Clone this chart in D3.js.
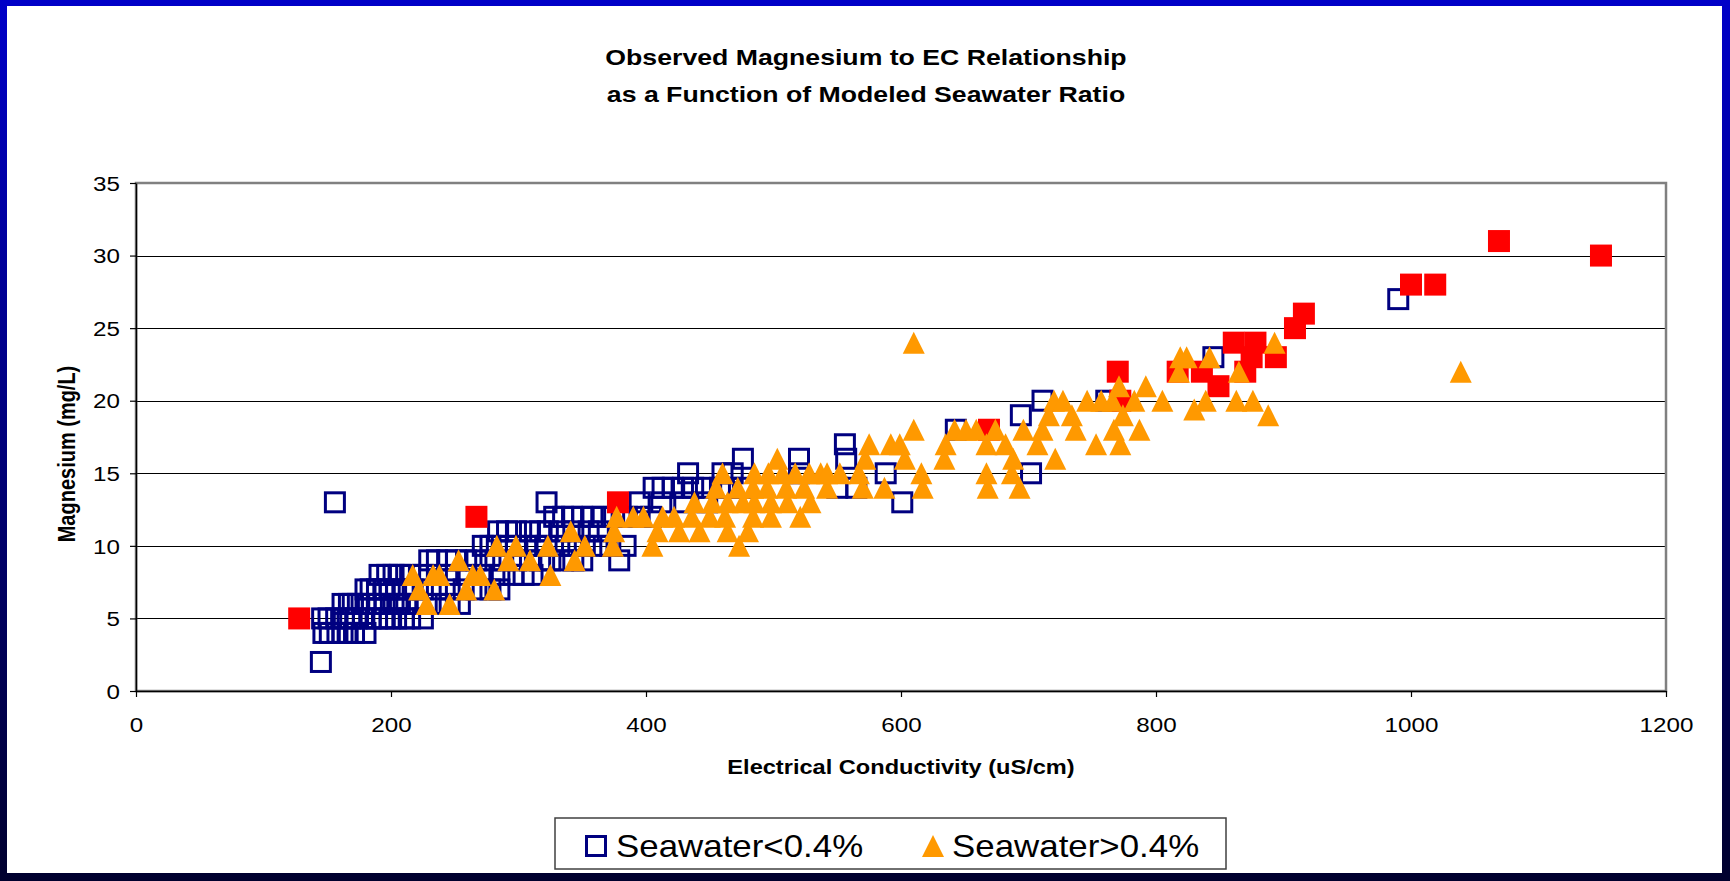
<!DOCTYPE html>
<html>
<head>
<meta charset="utf-8">
<script src="https://cdn.jsdelivr.net/npm/d3@7"></script>
<style>
  html, body { margin: 0; padding: 0; overflow: hidden; background: #000060; }
  svg { display: block; }
  text { font-family: "Liberation Sans", Arial, sans-serif; fill: #000; }
</style>
</head>
<body>
<svg id="chart" width="1730" height="881"></svg>
<script>
// ---- data -------------------------------------------------------------
const ecTicks = [0, 200, 400, 600, 800, 1000, 1200];
const mgTicks = [0, 5, 10, 15, 20, 25, 30, 35];
const titleLines = ["Observed Magnesium to EC Relationship", "as a Function of Modeled Seawater Ratio"];
const xTitle = "Electrical Conductivity (uS/cm)";
const yTitle = "Magnesium (mg/L)";
const seriesNames = ["Seawater<0.4%", "Seawater>0.4%"];

// Seawater < 0.4 %   [EC uS/cm, Mg mg/L]
const lowSeawater = [
  [145, 2],
  [147, 4], [152, 4], [158, 4], [162, 4], [166, 4], [171, 4], [180, 4],
  [146, 5], [151, 5], [157, 5], [163, 5], [168, 5], [173, 5], [178, 5], [184, 5], [189, 5], [194, 5],
  [199, 5], [204, 5], [210, 5], [215, 5], [225, 5],
  [162, 6], [167, 6], [170, 6], [174, 6], [180, 6], [185, 6], [190, 6], [195, 6], [202, 6], [207, 6],
  [212, 6], [220, 6], [228, 6], [236, 6], [246, 6], [254, 6],
  [180, 7], [184, 7], [189, 7], [194, 7], [199, 7], [204, 7], [210, 7], [217, 7], [225, 7], [236, 7],
  [246, 7], [257, 7], [267, 7], [278, 7], [285, 7],
  [191, 8], [197, 8], [202, 8], [207, 8], [215, 8], [225, 8], [236, 8], [246, 8], [259, 8], [272, 8],
  [285, 8], [296, 8], [304, 8], [311, 8],
  [230, 9], [236, 9], [244, 9], [251, 9], [259, 9], [267, 9], [278, 9], [288, 9], [298, 9], [309, 9],
  [317, 9], [325, 9], [335, 9], [343, 9], [350, 9], [379, 9],
  [272, 10], [278, 10], [283, 10], [291, 10], [298, 10], [306, 10], [314, 10], [322, 10], [332, 10],
  [342, 10], [352, 10], [362, 10], [372, 10], [384, 10],
  [284, 11], [291, 11], [298, 11], [309, 11], [317, 11], [323, 11], [333, 11], [343, 11], [355, 11], [363, 11],
  [328, 12], [335, 12], [342, 12], [350, 12], [358, 12], [366, 12], [375, 12], [385, 12], [395, 12], [404, 12],
  [156, 13], [322, 13], [395, 13], [412, 13], [430, 13], [448, 13], [601, 13],
  [406, 14], [413, 14], [421, 14], [429, 14], [437, 14], [447, 14], [458, 14], [466, 14], [476, 14],
  [550, 14], [565, 14],
  [433, 15], [460, 15], [468, 15], [520, 15], [588, 15], [702, 15],
  [476, 16], [520, 16], [557, 16],
  [556, 17], [643, 18], [694, 19], [711, 20], [761, 20], [845, 23], [990, 27]
];

// Seawater > 0.4 %   [EC uS/cm, Mg mg/L]
const highSeawater = [
  [228, 6], [246, 6],
  [222, 7], [259, 7], [281, 7],
  [217, 8], [233, 8], [238, 8], [264, 8], [270, 8], [325, 8],
  [253, 9], [292, 9], [309, 9], [344, 9],
  [283, 10], [298, 10], [323, 10], [352, 10], [374, 10], [405, 10], [473, 10],
  [341, 11], [375, 11], [409, 11], [426, 11], [442, 11], [464, 11], [480, 11],
  [377, 12], [390, 12], [398, 12], [413, 12], [422, 12], [436, 12], [450, 12], [462, 12], [484, 12],
  [498, 12], [521, 12],
  [438, 13], [452, 13], [464, 13], [476, 13], [485, 13], [498, 13], [511, 13], [529, 13],
  [455, 14], [472, 14], [484, 14], [495, 14], [510, 14], [524, 14], [542, 14], [570, 14], [587, 14],
  [617, 14], [668, 14], [693, 14],
  [460, 15], [485, 15], [496, 15], [507, 15], [517, 15], [528, 15], [537, 15], [542, 15], [552, 15],
  [567, 15], [616, 15], [667, 15], [687, 15],
  [503, 16], [572, 16], [603, 16], [634, 16], [688, 16], [721, 16],
  [575, 17], [592, 17], [599, 17], [635, 17], [667, 17], [682, 17], [707, 17], [753, 17], [772, 17],
  [610, 18], [642, 18], [651, 18], [659, 18], [674, 18], [696, 18], [711, 18], [737, 18], [767, 18], [787, 18],
  [716, 19], [734, 19], [774, 19], [888, 19], [830, 19.4],
  [720, 20], [727, 20], [746, 20], [757, 20], [766, 20], [783, 20], [805, 20], [839, 20], [863, 20], [876, 20],
  [771, 21], [792, 21],
  [818, 22], [865, 22], [1039, 22],
  [819, 23], [824, 23], [842, 23],
  [610, 24], [893, 24]
];

// highlighted samples drawn as filled red squares   [EC uS/cm, Mg mg/L]
const highlighted = [
  [128, 5], [267, 12], [378, 13], [669, 18], [770, 22], [772, 20], [817, 22], [836, 22], [849, 21],
  [861, 24], [870, 22], [875, 23], [878, 24], [894, 23], [909, 25], [916, 26], [1000, 28], [1019, 28],
  [1069, 31], [1149, 30]
];

// ---- layout -----------------------------------------------------------
const W = 1730, H = 881;
const plot = { left: 136, right: 1666, top: 183, bottom: 691 };
const textStretch = 1.18;   // horizontal glyph stretch of the slide text

const svg = d3.select("#chart");

// slide background: blue vertical gradient with a white chart panel
const defs = svg.append("defs");
const grad = defs.append("linearGradient").attr("id", "slideBg")
  .attr("x1", 0).attr("y1", 0).attr("x2", 0).attr("y2", 1);
grad.append("stop").attr("offset", "0%").attr("stop-color", "#0000C8");
grad.append("stop").attr("offset", "100%").attr("stop-color", "#00002E");
svg.append("rect").attr("width", W).attr("height", H).attr("fill", "url(#slideBg)");
svg.append("rect").attr("x", 7).attr("y", 6).attr("width", W - 15).attr("height", H - 14).attr("fill", "#fff");

const x = d3.scaleLinear().domain([0, 1200]).range([plot.left, plot.right]);
const y = d3.scaleLinear().domain([0, 35]).range([plot.bottom, plot.top]);

// title
const title = svg.append("g").attr("transform", `translate(866,0)`);
titleLines.forEach((t, i) => {
  title.append("text")
    .attr("transform", `translate(0,${65 + i * 37}) scale(${textStretch},1)`)
    .attr("text-anchor", "middle")
    .attr("font-weight", "bold")
    .attr("font-size", 22.6)
    .text(t);
});

// horizontal gridlines
svg.append("g").selectAll("line")
  .data(mgTicks.filter(v => v > 0 && v < 35))
  .join("line")
  .attr("x1", plot.left).attr("x2", plot.right)
  .attr("y1", d => Math.round(y(d)) + 0.5).attr("y2", d => Math.round(y(d)) + 0.5)
  .attr("stroke", "#000").attr("stroke-width", 1);

// plot area frame
svg.append("rect")
  .attr("x", plot.left).attr("y", plot.top)
  .attr("width", plot.right - plot.left).attr("height", plot.bottom - plot.top)
  .attr("fill", "none").attr("stroke", "#808080").attr("stroke-width", 2.5);

// axes
const yAxis = svg.append("g")
  .attr("transform", `translate(${plot.left},0)`)
  .call(d3.axisLeft(y).tickValues(mgTicks).tickFormat(d3.format("d"))
    .tickSize(6).tickSizeOuter(0).tickPadding(0));
const xAxis = svg.append("g")
  .attr("transform", `translate(0,${plot.bottom})`)
  .call(d3.axisBottom(x).tickValues(ecTicks).tickFormat(d3.format("d"))
    .tickSize(6).tickSizeOuter(0).tickPadding(0));

[yAxis, xAxis].forEach(a => {
  a.select(".domain").attr("stroke", "#000").attr("stroke-width", 1.5);
  a.selectAll(".tick line").attr("stroke", "#000").attr("stroke-width", 1.2);
  a.selectAll("text")
    .attr("font-family", "Liberation Sans, Arial, sans-serif")
    .attr("font-size", 20.5)
    .attr("fill", "#000");
});
yAxis.selectAll("text")
  .attr("x", -16 / textStretch).attr("dy", "0.35em")
  .attr("transform", `scale(${textStretch},1)`);
xAxis.selectAll("text")
  .attr("y", 41).attr("dy", 0)
  .attr("transform", `scale(${textStretch},1)`);

// axis titles
svg.append("text")
  .attr("transform", `translate(${(plot.left + plot.right) / 2},774) scale(${textStretch},1)`)
  .attr("text-anchor", "middle").attr("font-weight", "bold").attr("font-size", 20)
  .text(xTitle);
svg.append("text")
  .attr("transform", `translate(75,454) rotate(-90) scale(1,${textStretch})`)
  .attr("text-anchor", "middle").attr("font-weight", "bold").attr("font-size", 20)
  .text(yTitle);

// markers
const triPath = "M0,-11L11,11L-11,11Z";
const marks = svg.append("g");

marks.append("g").selectAll("rect")
  .data(lowSeawater)
  .join("rect")
  .attr("x", d => x(d[0]) - 9.5).attr("y", d => y(d[1]) - 9.5)
  .attr("width", 19).attr("height", 19)
  .attr("fill", "none").attr("stroke", "#000080").attr("stroke-width", 3);

marks.append("g").selectAll("rect")
  .data(highlighted)
  .join("rect")
  .attr("x", d => x(d[0]) - 11).attr("y", d => y(d[1]) - 11)
  .attr("width", 22).attr("height", 22)
  .attr("fill", "#FF0000");

marks.append("g").selectAll("path")
  .data(highSeawater)
  .join("path")
  .attr("transform", d => `translate(${x(d[0])},${y(d[1])})`)
  .attr("d", triPath)
  .attr("fill", "#FF9900");

// legend
const legend = svg.append("g");
legend.append("rect")
  .attr("x", 555).attr("y", 818).attr("width", 671).attr("height", 51)
  .attr("fill", "#fff").attr("stroke", "#404040").attr("stroke-width", 1.5);
legend.append("rect")
  .attr("x", 586.5).attr("y", 836.5).attr("width", 19).attr("height", 19)
  .attr("fill", "none").attr("stroke", "#000080").attr("stroke-width", 3);
legend.append("path")
  .attr("transform", "translate(933,846)")
  .attr("d", triPath).attr("fill", "#FF9900");
[[616, seriesNames[0]], [952, seriesNames[1]]].forEach(([lx, t]) => {
  legend.append("text")
    .attr("transform", `translate(${lx},857) scale(1.09,1)`)
    .attr("font-size", 32)
    .text(t);
});
</script>
</body>
</html>
